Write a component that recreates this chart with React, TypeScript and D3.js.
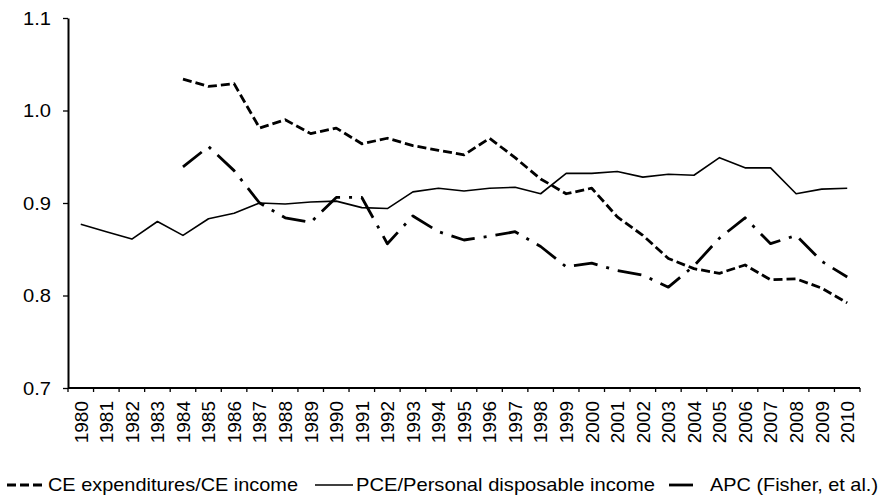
import React, { useRef, useEffect } from 'react';
import * as d3 from 'd3';

const years = [
  '1980', '1981', '1982', '1983', '1984', '1985', '1986', '1987', '1988', '1989',
  '1990', '1991', '1992', '1993', '1994', '1995', '1996', '1997', '1998', '1999',
  '2000', '2001', '2002', '2003', '2004', '2005', '2006', '2007', '2008', '2009', '2010',
];

// CE expenditures / CE income (starts 1984)
const ceRatio: (number | null)[] = [
  null, null, null, null,
  1.034, 1.026, 1.029, 0.981, 0.990, 0.975, 0.981, 0.964, 0.970, 0.962, 0.957,
  0.952, 0.970, 0.949, 0.926, 0.910, 0.916, 0.885, 0.865, 0.840, 0.829, 0.824,
  0.833, 0.817, 0.818, 0.808, 0.792,
];

// PCE / personal disposable income
const pceRatio: (number | null)[] = [
  0.877, 0.869, 0.861, 0.880, 0.865, 0.883, 0.889, 0.900, 0.899, 0.901, 0.902,
  0.895, 0.894, 0.912, 0.916, 0.913, 0.916, 0.917, 0.910, 0.932, 0.932, 0.934,
  0.928, 0.931, 0.930, 0.949, 0.938, 0.938, 0.910, 0.915, 0.916,
];

// APC (Fisher, et al.)
const apc: (number | null)[] = [
  null, null, null, null,
  0.939, 0.961, 0.935, 0.900, 0.884, 0.879, 0.906, 0.906, 0.856, 0.886, 0.869,
  0.860, 0.864, 0.869, 0.853, 0.831, 0.835, 0.827, 0.822, 0.809, 0.832, 0.862,
  0.884, 0.856, 0.865, 0.837, 0.820,
];

const yTicks = [0.7, 0.8, 0.9, 1.0, 1.1];

const seriesList = [
  { name: 'CE expenditures/CE income', values: ceRatio, width: 2.8, dash: '9,4' },
  { name: 'PCE/Personal disposable income', values: pceRatio, width: 1.6, dash: null },
  { name: 'APC (Fisher, et al.)', values: apc, width: 2.8, dash: '24,9,3,9' },
];

const FONT = '"Liberation Sans", Arial, sans-serif';

const App: React.FC = () => {
  const svgRef = useRef<SVGSVGElement | null>(null);

  useEffect(() => {
    const width = 880;
    const height = 497;
    const left = 68;
    const right = 860;
    const top = 18;
    const bottom = 388;

    const svg = d3.select(svgRef.current);
    svg.selectAll('*').remove();
    svg.attr('width', width).attr('height', height);

    const x = d3.scaleBand().domain(years).range([left, right]);
    const y = d3.scaleLinear().domain([0.7, 1.1]).range([bottom, top]);
    const cx = (yr: string) => x(yr)! + x.bandwidth() / 2;

    // y axis
    const yAxis = svg
      .append('g')
      .attr('transform', `translate(${left},0)`)
      .call(
        d3
          .axisLeft(y)
          .tickValues(yTicks)
          .tickFormat(d3.format('.1f'))
          .tickSize(5)
          .tickSizeOuter(0)
          .tickPadding(12)
      );
    yAxis.select('.domain').attr('stroke', '#000').attr('stroke-width', 2);
    yAxis.selectAll('.tick line').attr('stroke', '#000').attr('stroke-width', 1.3);
    yAxis
      .selectAll('.tick text')
      .attr('fill', '#000')
      .attr('textLength', 28)
      .attr('lengthAdjust', 'spacingAndGlyphs')
      .style('font-family', FONT)
      .style('font-size', '19px');

    // x axis (category ticks between the labels)
    const xg = svg.append('g');
    xg.append('line')
      .attr('x1', left)
      .attr('x2', right)
      .attr('y1', bottom)
      .attr('y2', bottom)
      .attr('stroke', '#000')
      .attr('stroke-width', 2);

    const boundaries = years.map((yr) => x(yr)!).concat([right]);
    xg.selectAll('line.tk')
      .data(boundaries)
      .enter()
      .append('line')
      .attr('class', 'tk')
      .attr('x1', (d) => d)
      .attr('x2', (d) => d)
      .attr('y1', bottom)
      .attr('y2', bottom + 4)
      .attr('stroke', '#000')
      .attr('stroke-width', 1.3);

    xg.selectAll('text')
      .data(years)
      .enter()
      .append('text')
      .attr('transform', (d) => `translate(${cx(d)},${bottom + 13}) rotate(-90)`)
      .attr('dy', '0.36em')
      .attr('text-anchor', 'end')
      .style('font-family', FONT)
      .style('font-size', '19px')
      .attr('fill', '#000')
      .text((d) => d);

    // lines
    seriesList.forEach((s) => {
      const line = d3
        .line<number | null>()
        .defined((d) => d !== null)
        .x((_, i) => cx(years[i]))
        .y((d) => y(d as number));
      const path = svg
        .append('path')
        .datum(s.values)
        .attr('fill', 'none')
        .attr('stroke', '#000')
        .attr('stroke-width', s.width)
        .attr('stroke-linejoin', 'round')
        .attr('d', line);
      if (s.dash) path.attr('stroke-dasharray', s.dash);
    });

    // legend
    const legendY = 485;
    const legendItems = [
      { s: seriesList[0], x1: 7, x2: 42, tx: 48, tw: 250 },
      { s: seriesList[1], x1: 315, x2: 353, tx: 356, tw: 299 },
      { s: seriesList[2], x1: 669, x2: 693, tx: 710, tw: 168 },
    ];
    const lg = svg.append('g');
    legendItems.forEach((it) => {
      const l = lg
        .append('line')
        .attr('x1', it.x1)
        .attr('x2', it.x2)
        .attr('y1', legendY)
        .attr('y2', legendY)
        .attr('stroke', '#000')
        .attr('stroke-width', it.s.width);
      if (it.s.dash) l.attr('stroke-dasharray', it.s.dash);
      lg.append('text')
        .attr('x', it.tx)
        .attr('y', legendY)
        .attr('dy', '0.35em')
        .attr('textLength', it.tw)
        .attr('lengthAdjust', 'spacingAndGlyphs')
        .style('font-family', FONT)
        .style('font-size', '18.5px')
        .attr('fill', '#000')
        .text(it.s.name);
    });
  }, []);

  return (
    <svg
      ref={svgRef}
      style={{ position: 'absolute', left: 0, top: 0, display: 'block', background: '#fff' }}
    ></svg>
  );
};

export default App;
